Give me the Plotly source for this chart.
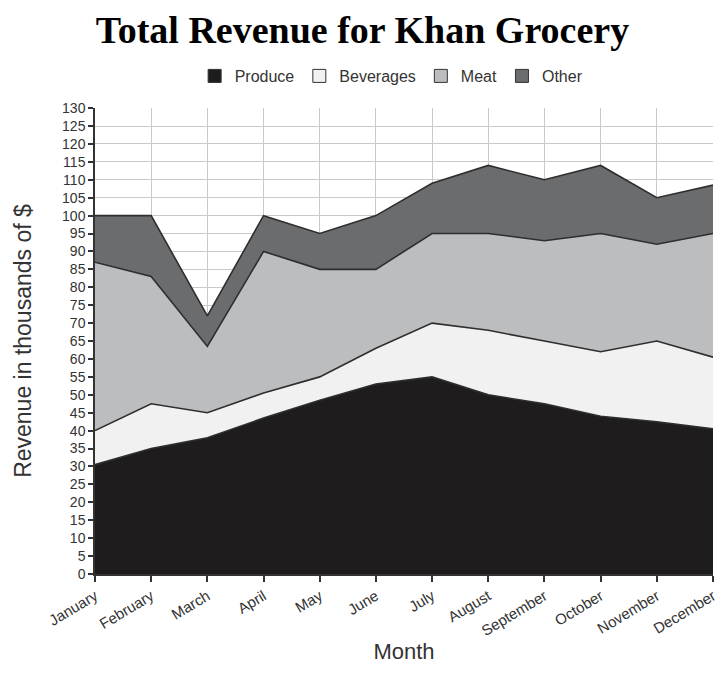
import plotly.graph_objects as go

# Monthly revenue (thousands of $) by department
months = ["January", "February", "March", "April", "May", "June",
          "July", "August", "September", "October", "November", "December"]
produce = [30.5, 35, 38, 43.5, 48.5, 53, 55, 50, 47.5, 44, 42.5, 40.5]
beverages = [9.5, 12.5, 7, 7, 6.5, 10, 15, 18, 17.5, 18, 22.5, 20]
meat = [47, 35.5, 18.5, 39.5, 30, 22, 25, 27, 28, 33, 27, 34.5]
other = [13, 17, 8.5, 10, 10, 15, 14, 19, 17, 19, 13, 13.5]

series = [
    ("Produce", produce, "#1e1c1d"),
    ("Beverages", beverages, "#f1f1f2"),
    ("Meat", meat, "#bcbdbf"),
    ("Other", other, "#6b6c6e"),
]

fig = go.Figure()

# Stacked areas
for name, vals, color in series:
    fig.add_trace(go.Scatter(
        x=months, y=vals, name=name, stackgroup="rev",
        mode="lines", line=dict(color="#2e2e2e", width=1.6),
        fillcolor=color, showlegend=False, hoverinfo="skip",
    ))

# Legend swatches
for name, vals, color in series:
    fig.add_trace(go.Scatter(
        x=[None], y=[None], name=name, mode="markers",
        marker=dict(symbol="square", size=13, color=color,
                    line=dict(color="#333333", width=1)),
        showlegend=True,
    ))

fig.update_layout(
    width=725, height=684,
    margin=dict(l=95, r=7, t=107, b=110),
    paper_bgcolor="white", plot_bgcolor="white",
    title=dict(text="<b>Total Revenue for Khan Grocery</b>",
               font=dict(family="Liberation Serif", size=38, color="black"),
               x=0.5, xanchor="center", y=1 - 30 / 684, yanchor="middle"),
    font=dict(family="Liberation Sans", color="#333333"),
    legend=dict(orientation="h", x=0.48, xanchor="center",
                yref="container", y=1 - 76 / 684, yanchor="middle",
                traceorder="normal", itemwidth=30,
                font=dict(size=16, color="#333333"),
                itemclick=False, itemdoubleclick=False),
    showlegend=True,
)

fig.update_xaxes(
    type="category", range=[0, 11],
    showgrid=True, gridcolor="#c9c9c9", gridwidth=1,
    showline=True, linecolor="#333333", linewidth=1.5,
    ticks="outside", ticklen=6, tickcolor="#333333", tickwidth=1.5,
    tickangle=-31, tickfont=dict(size=15, color="#333333"),
    title=dict(text="Month", font=dict(size=22, color="#333333"), standoff=6),
    zeroline=False,
)
fig.update_yaxes(
    range=[0, 130], dtick=5, tick0=0,
    showgrid=True, gridcolor="#c9c9c9", gridwidth=1,
    showline=True, linecolor="#333333", linewidth=1.5,
    ticks="outside", ticklen=5, tickcolor="#333333", tickwidth=1.5,
    tickfont=dict(size=14, color="#333333"),
    title=dict(text="Revenue in thousands of $", font=dict(size=23, color="#333333"), standoff=24),
    zeroline=False,
)

fig.write_html("out.html")
